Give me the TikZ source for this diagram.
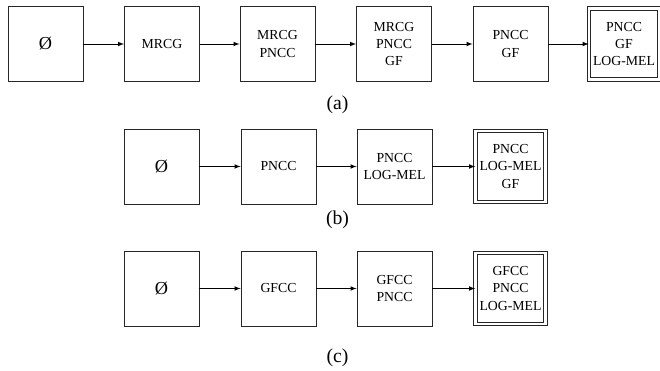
\documentclass[tikz,border=0pt]{standalone}
\usepackage{fontspec}
\setmainfont{Liberation Serif}
\usetikzlibrary{arrows,positioning}

\begin{document}
\begin{tikzpicture}[>=latex,
  box/.style={draw=black!85, line width=0.6pt, minimum width=1.875cm, minimum height=1.875cm,
    inner sep=1pt, align=center, font=\fontsize{9.8}{12.2}\selectfont},
  best/.style={box, double=white, double distance=2pt, line width=0.5pt, minimum width=1.75cm, minimum height=1.775cm},
  empty/.style={box, font=\fontsize{13}{13}\selectfont},
  sublabel/.style={font=\fontsize{14}{14}\selectfont},
  link/.style={->, line width=0.5pt}]
\useasboundingbox (0,0) rectangle (16.5,-9.275);
% (a)
\begin{scope}
  \node [empty] (a1) at (1.1375,-1.1) {Ø};
  \node [box] (a2) at (4.05,-1.1) {MRCG};
  \node [box] (a3) at (6.9375,-1.1) {MRCG\\PNCC};
  \node [box] (a4) at (9.85,-1.1) {MRCG\\PNCC\\GF};
  \node [box] (a5) at (12.7625,-1.1) {PNCC\\GF};
  \node [best] (a6) at (15.6,-1.1) {PNCC\\GF\\LOG-MEL};
  \draw [link] (a1) -- (a2);
  \draw [link] (a2) -- (a3);
  \draw [link] (a3) -- (a4);
  \draw [link] (a4) -- (a5);
  \draw [link] (a5) -- (a6);
  \node [sublabel] (capa) at (8.4375,-2.625) {(a)};
\end{scope}
% (b)
\begin{scope}[yshift=-3.0625cm]
  \node [empty] (b1) at (4.0375,-1.1) {Ø};
  \node [box] (b2) at (6.9625,-1.1) {PNCC};
  \node [box] (b3) at (9.8625,-1.1) {PNCC\\LOG-MEL};
  \node [best] (b4) at (12.7625,-1.1) {PNCC\\LOG-MEL\\GF};
  \draw [link] (b1) -- (b2);
  \draw [link] (b2) -- (b3);
  \draw [link] (b3) -- (b4);
  \node [sublabel] (capb) at (8.4375,-2.425) {(b)};
\end{scope}
% (c)
\begin{scope}[yshift=-6.1125cm]
  \node [empty] (c1) at (4.0375,-1.1) {Ø};
  \node [box] (c2) at (6.9625,-1.1) {GFCC};
  \node [box] (c3) at (9.8625,-1.1) {GFCC\\PNCC};
  \node [best] (c4) at (12.7625,-1.1) {GFCC\\PNCC\\LOG-MEL};
  \draw [link] (c1) -- (c2);
  \draw [link] (c2) -- (c3);
  \draw [link] (c3) -- (c4);
  \node [sublabel] (capc) at (8.4375,-2.8375) {(c)};
\end{scope}
\end{tikzpicture}
\end{document}
